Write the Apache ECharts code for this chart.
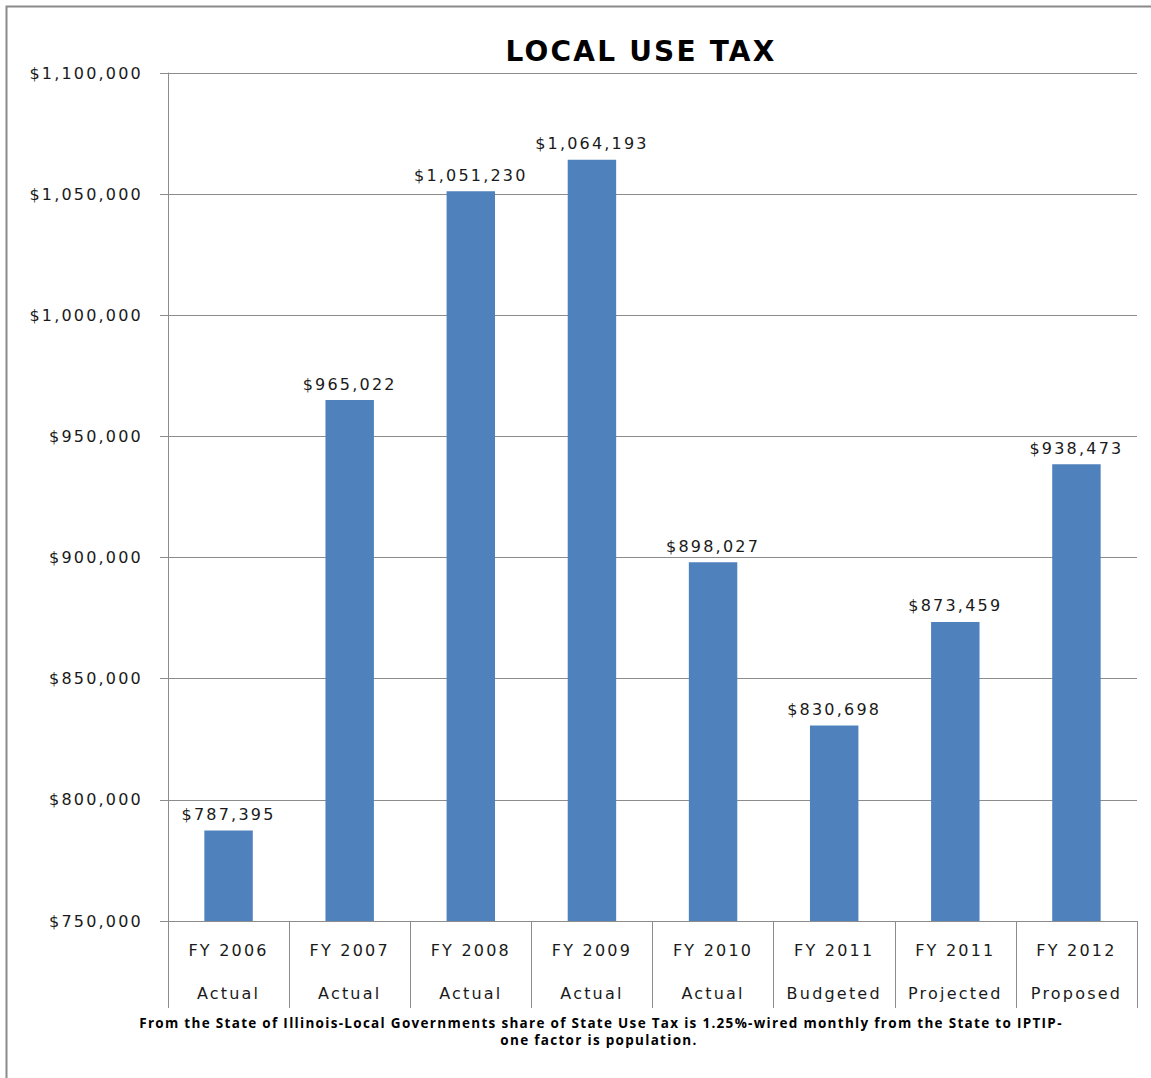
<!DOCTYPE html>
<html>
<head>
<meta charset="utf-8">
<title>Local Use Tax</title>
<script src="https://cdn.jsdelivr.net/npm/echarts@6/dist/echarts.min.js"></script>
<style>
  html, body { margin: 0; padding: 0; background: #fff; }
  #chart { width: 1151px; height: 1078px; }
  /* wide, airy lettering for axis and value labels */
  #chart text { letter-spacing: 2.2px; }
  #chart text[style*="Open Sans"] { letter-spacing: 1.3px; }
</style>
</head>
<body>
<div id="chart"></div>
<script>
// Fiscal years and budget stage shown under each bar
const fiscalYears = ['FY 2006', 'FY 2007', 'FY 2008', 'FY 2009', 'FY 2010', 'FY 2011', 'FY 2011', 'FY 2012'];
const stages = ['Actual', 'Actual', 'Actual', 'Actual', 'Actual', 'Budgeted', 'Projected', 'Proposed'];
// Local use tax receipts, dollars
const receipts = [787395, 965022, 1051230, 1064193, 898027, 830698, 873459, 938473];
// Value axis range
const axisMin = 750000;
const axisMax = 1100000;
const axisStep = 50000;

const chartTitle = 'LOCAL USE TAX';
const footnoteLines = [
  'From the State of Illinois-Local Governments share of State Use Tax is 1.25%-wired monthly from the State to IPTIP-',
  'one factor is population.'
];

const categories = fiscalYears.map((fy, i) => fy + '\n' + stages[i]);
const money = v => '$' + Number(v).toLocaleString('en-US');

const lineGray = '#8c8c8c';
const labelFont = 'DejaVu Sans';

const chart = echarts.init(document.getElementById('chart'), null, { renderer: 'svg' });
chart.setOption({
  backgroundColor: '#ffffff',
  animation: false,
  graphic: [
    {
      type: 'polyline',
      silent: true,
      shape: { points: [[6.5, 1078], [6.5, 6.5], [1151, 6.5]] },
      style: { stroke: '#8a8a8a', lineWidth: 2, fill: null }
    },
    {
      type: 'text',
      style: {
        x: 641, y: 51, text: chartTitle,
        font: 'bold 28px "DejaVu Sans"', fill: '#000',
        align: 'center', verticalAlign: 'middle'
      }
    },
    {
      type: 'text',
      style: {
        x: 601, y: 1023, text: footnoteLines[0],
        font: 'bold 13.5px "Open Sans"', fill: '#000',
        align: 'center', verticalAlign: 'middle'
      }
    },
    {
      type: 'text',
      style: {
        x: 599, y: 1040, text: footnoteLines[1],
        font: 'bold 13.5px "Open Sans"', fill: '#000',
        align: 'center', verticalAlign: 'middle'
      }
    }
  ],
  grid: { left: 168, right: 14, top: 73, bottom: 157, containLabel: false },
  xAxis: {
    type: 'category',
    data: categories,
    boundaryGap: true,
    axisLine: { show: true, lineStyle: { color: lineGray, width: 1 } },
    axisTick: { show: true, interval: 0, length: 87, alignWithLabel: false, lineStyle: { color: lineGray, width: 1 } },
    axisLabel: {
      interval: 0,
      margin: 8,
      lineHeight: 43,
      color: '#1a1a1a',
      fontFamily: labelFont,
      fontSize: 16
    },
    splitLine: { show: false }
  },
  yAxis: {
    type: 'value',
    min: axisMin,
    max: axisMax,
    interval: axisStep,
    axisLine: { show: true, lineStyle: { color: lineGray, width: 1 } },
    axisTick: { show: true, length: 8, lineStyle: { color: lineGray, width: 1 } },
    axisLabel: {
      margin: 25,
      color: '#1a1a1a',
      fontFamily: labelFont,
      fontSize: 16,
      formatter: money
    },
    splitLine: { show: true, lineStyle: { color: lineGray, width: 1 } }
  },
  series: [{
    type: 'bar',
    data: receipts,
    barWidth: '40%',
    itemStyle: { color: '#4f81bd' },
    label: {
      show: true,
      position: 'top',
      distance: 8,
      color: '#1a1a1a',
      fontFamily: labelFont,
      fontSize: 16,
      formatter: p => money(p.value)
    }
  }]
});
</script>
</body>
</html>
